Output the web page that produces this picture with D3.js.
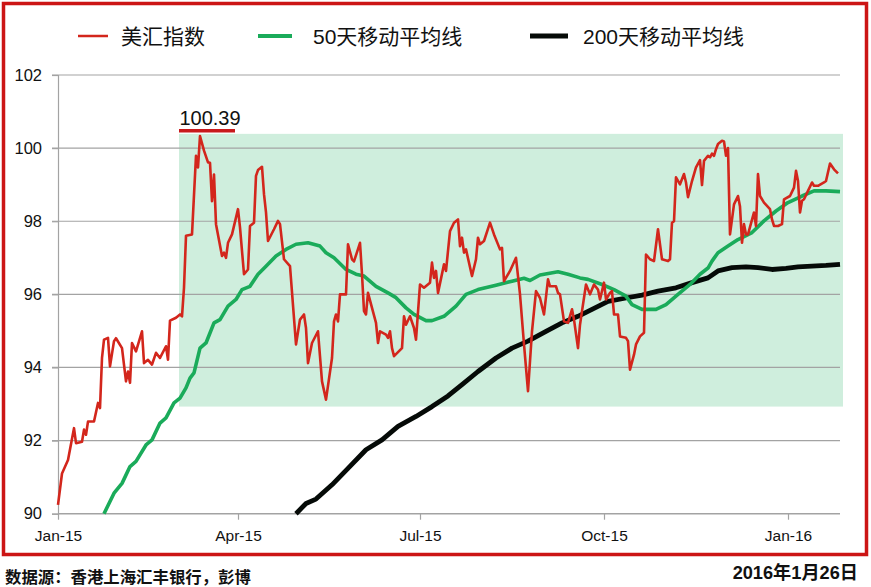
<!DOCTYPE html>
<html><head><meta charset="utf-8">
<script src="https://cdn.jsdelivr.net/npm/d3@7"></script>
<style>
html,body{margin:0;padding:0;background:#fff;}
svg{display:block;}
</style></head>
<body>
<svg id="chart" width="871" height="587"></svg>
<script>
// ---- DATA (day offset from 2015-01-01, value) ----
const usdIndex = [
[0,90.24],[2,91.1],[5,91.47],[8,92.34],[9,91.93],[12,91.97],[13,92.3],[14,92.16],[15,92.52],[18,92.52],
[20,93.03],[21,92.89],[22,94.26],[23,94.76],[25,94.81],[26,94.03],[28,94.72],[29,94.8],[32,94.53],[34,93.62],
[35,93.89],[36,93.58],[37,94.67],[39,94.44],[42,94.99],[43,94.12],[45,94.21],[47,94.08],[49,94.4],[51,94.26],
[54,94.58],[55,94.21],[56,95.28],[59,95.36],[61,95.45],[62,95.4],[63,96.18],[64,97.6],[67,97.64],[69,99.79],
[70,99.47],[71,100.33],[73,99.93],[75,99.61],[76,99.6],[77,98.55],[78,99.28],[79,97.92],[82,97.05],[83,97.14],
[84,97.0],[85,97.41],[87,97.64],[90,98.33],[91,97.83],[93,96.55],[95,96.68],[96,97.87],[98,97.96],[99,99.24],
[100,99.4],[102,99.49],[103,98.74],[104,98.24],[105,97.46],[108,97.78],[110,98.01],[111,97.92],[113,96.96],[116,96.77],
[119,94.63],[121,95.31],[123,95.45],[124,95.08],[125,94.12],[127,94.67],[130,94.99],[132,93.62],[134,93.12],[137,94.26],
[138,95.26],[139,95.45],[140,95.26],[141,96.0],[144,96.0],[145,97.37],[147,96.96],[148,96.9],[151,97.41],[152,96.55],
[153,95.54],[154,95.45],[155,96.04],[157,95.63],[159,95.22],[160,94.67],[161,94.99],[164,94.9],[165,94.81],[166,94.99],
[167,94.53],[168,94.31],[172,94.53],[173,95.4],[174,95.17],[176,95.4],[178,95.08],[179,94.76],[181,96.27],[183,96.18],
[186,96.32],[187,96.87],[188,96.45],[189,96.64],[190,96.04],[193,96.82],[194,96.64],[196,97.73],[198,97.96],[200,98.05],
[201,97.32],[202,97.55],[203,97.14],[204,97.23],[207,96.5],[209,96.96],[210,97.55],[211,97.37],[213,97.46],[216,97.96],
[218,97.64],[221,97.23],[222,97.27],[223,96.36],[226,96.64],[229,97.0],[231,96.0],[233,94.63],[235,93.35],[237,94.99],
[239,96.09],[241,95.9],[243,95.45],[245,96.41],[246,96.22],[249,96.22],[250,96.04],[251,96.0],[253,95.26],[255,95.22],
[257,95.59],[258,95.31],[260,94.53],[261,95.17],[262,95.54],[264,96.27],[266,96.0],[268,96.27],[270,96.13],[271,95.86],
[273,96.32],[274,95.86],[276,96.04],[277,96.09],[278,95.45],[280,95.45],[281,94.85],[284,94.81],[285,94.72],[286,93.94],
[288,94.35],[289,94.63],[291,94.85],[293,94.95],[294,97.09],[296,96.96],[298,96.91],[300,97.78],[302,96.96],[305,96.91],
[306,96.96],[307,97.96],[308,98.0],[309,99.2],[311,99.01],[313,99.29],[314,99.06],[315,98.66],[317,99.1],[319,99.47],
[321,99.67],[322,98.99],[323,99.65],[325,99.79],[326,99.75],[327,99.85],[328,99.79],[329,99.97],[330,100.11],[332,100.2],
[333,100.18],[334,99.79],[335,100.0],[336,97.64],[338,98.46],[340,98.69],[341,98.4],[342,97.41],[343,97.92],[344,97.64],
[345,97.64],[348,98.24],[349,97.87],[350,99.29],[351,98.69],[353,98.51],[356,98.33],[357,98.05],[358,97.87],[360,97.87],
[362,97.92],[363,98.6],[366,98.69],[368,98.92],[369,99.38],[370,99.1],[371,98.24],[372,98.56],[373,98.6],[375,98.83],
[377,99.06],[378,98.97],[380,98.97],[383,99.06],[384,99.1],[386,99.58],[388,99.42],[390,99.31]
];
const ma50 = [
[23,90.0],[28,90.56],[32,90.83],[36,91.29],[39,91.43],[44,91.88],[47,92.02],[51,92.48],[54,92.62],[58,93.03],
[61,93.16],[64,93.44],[66,93.71],[68,93.85],[71,94.53],[74,94.67],[78,95.22],[81,95.31],[85,95.68],[89,95.86],
[92,96.13],[96,96.22],[100,96.55],[104,96.77],[109,97.05],[114,97.23],[119,97.37],[125,97.41],[131,97.32],[134,97.14],
[138,97.0],[144,96.68],[149,96.55],[153,96.5],[159,96.22],[165,96.04],[169,95.91],[174,95.63],[178,95.45],[184,95.28],
[187,95.28],[193,95.4],[199,95.68],[204,96.0],[210,96.13],[219,96.25],[227,96.36],[233,96.44],[236,96.38],[241,96.53],
[250,96.62],[255,96.55],[261,96.45],[265,96.41],[272,96.27],[278,96.13],[284,95.95],[287,95.72],[292,95.59],[299,95.59],
[304,95.72],[310,96.0],[316,96.27],[321,96.55],[325,96.72],[327,96.91],[330,97.14],[335,97.32],[340,97.5],[347,97.69],
[353,98.01],[359,98.28],[365,98.51],[372,98.69],[378,98.83],[384,98.83],[391,98.81]
];
const ma200 = [
[119,90.0],[124,90.28],[129,90.4],[137,90.79],[145,91.24],[154,91.75],[162,92.02],[170,92.39],[179,92.66],[187,92.93],
[195,93.22],[202,93.53],[210,93.89],[219,94.26],[227,94.53],[235,94.72],[244,94.99],[252,95.22],[260,95.4],[267,95.59],
[275,95.81],[284,95.9],[292,95.98],[300,96.09],[309,96.18],[317,96.32],[325,96.45],[330,96.64],[337,96.73],[344,96.75],
[350,96.73],[357,96.68],[364,96.71],[370,96.75],[377,96.77],[384,96.79],[391,96.82]
];
const seriesNames = ["美汇指数","50天移动平均线","200天移动平均线"];
const yTicks = [90,92,94,96,98,100,102];
const xTickDates = ["2015-01-01","2015-04-01","2015-07-01","2015-10-01","2016-01-01"];
const rangeBox = {startDay:60.5, endDay:392.5, low:92.93, high:100.39};
const peakLabel = "100.39";
const sourceText = "数据源：香港上海汇丰银行，彭博";
const dateText = "2016年1月26日";

// ---- CHART ----
const svg = d3.select("#chart");
const base = new Date(2015,0,1);
const dayToDate = d => new Date(2015,0,1+Math.floor(d), (d%1)*24);
const L=58, R=840, T=75, B=513.7;
const x = d3.scaleTime().domain([base, new Date(2016,0,27)]).range([L,R]);
const y = d3.scaleLinear().domain([90,102]).range([B,T]);

const red="#d3261c", green="#1aab5a", black="#050a07", gridC="#a3a3a3";
const numFont = "'Liberation Sans', Arial, sans-serif";
const cjkFont = "'Liberation Sans', 'Noto Sans CJK SC', sans-serif";

// frame
svg.append("rect").attr("x",3.5).attr("y",3.5).attr("width",863).attr("height",551)
  .attr("fill","none").attr("stroke","#cc1515").attr("stroke-width",3.5);

// shaded range
svg.append("rect")
  .attr("x",x(dayToDate(rangeBox.startDay)))
  .attr("y",y(rangeBox.high))
  .attr("width",x(dayToDate(rangeBox.endDay))-x(dayToDate(rangeBox.startDay)))
  .attr("height",y(rangeBox.low)-y(rangeBox.high))
  .attr("fill","#cfeedd");

// gridlines
svg.append("g").selectAll("line").data(yTicks.filter(v=>v>90)).join("line")
  .attr("x1",L-6).attr("x2",R).attr("y1",d=>y(d)).attr("y2",d=>y(d))
  .attr("stroke",gridC).attr("stroke-width",1.2);

// y axis
const yAxis = svg.append("g").attr("transform",`translate(${L},0)`)
  .call(d3.axisLeft(y).tickValues(yTicks).tickSize(6).tickPadding(10).tickFormat(d3.format("d")));
yAxis.select(".domain").attr("stroke",gridC).attr("stroke-width",1.2);
yAxis.selectAll(".tick line").attr("stroke",gridC).attr("stroke-width",1.2);
yAxis.selectAll("text").attr("font-family",numFont).attr("font-size",16.5).attr("fill","#111");

// x axis
const xAxis = svg.append("g").attr("transform",`translate(0,${B})`)
  .call(d3.axisBottom(x).tickValues(xTickDates.map(s=>d3.timeParse("%Y-%m-%d")(s)))
    .tickSize(6).tickPadding(10).tickFormat(d3.timeFormat("%b-%y")));
xAxis.select(".domain").attr("stroke",gridC).attr("stroke-width",1.5).attr("d",`M${L},0H${R}`);
xAxis.selectAll(".tick line").attr("stroke",gridC).attr("stroke-width",1.2);
xAxis.selectAll("text").attr("font-family",numFont).attr("font-size",15.5).attr("fill","#111");

// lines
const line = d3.line().x(d=>x(dayToDate(d[0]))).y(d=>y(d[1]));
svg.append("path").datum(ma200).attr("d",line).attr("fill","none")
  .attr("stroke",black).attr("stroke-width",4.8).attr("stroke-linejoin","round");
svg.append("path").datum(ma50).attr("d",line).attr("fill","none")
  .attr("stroke",green).attr("stroke-width",3.6).attr("stroke-linejoin","round");
svg.append("path").datum(usdIndex).attr("d",line).attr("fill","none")
  .attr("stroke",red).attr("stroke-width",2.6).attr("stroke-linejoin","round");

// peak annotation
const peak = usdIndex.reduce((a,b)=>b[1]>a[1]?b:a);
const px = x(dayToDate(peak[0]));
svg.append("line").attr("x1",px-21).attr("x2",px+35)
  .attr("y1",y(rangeBox.high)-3).attr("y2",y(rangeBox.high)-3)
  .attr("stroke","#c8191c").attr("stroke-width",3.5);
svg.append("text").attr("x",px+10).attr("y",y(rangeBox.high)-9)
  .attr("text-anchor","middle").attr("font-family",numFont).attr("font-size",20)
  .attr("fill","#111").text(peakLabel);

// legend
const legend = [
  {name:seriesNames[0], color:red, w:2.5, x1:78, x2:108, tx:121},
  {name:seriesNames[1], color:green, w:4, x1:258, x2:292, tx:313},
  {name:seriesNames[2], color:black, w:5, x1:530, x2:568, tx:583}
];
const lg = svg.append("g");
lg.selectAll("line").data(legend).join("line")
  .attr("x1",d=>d.x1).attr("x2",d=>d.x2).attr("y1",36).attr("y2",36)
  .attr("stroke",d=>d.color).attr("stroke-width",d=>d.w);
lg.selectAll("text").data(legend).join("text")
  .attr("x",d=>d.tx).attr("y",43.5).attr("font-family",cjkFont).attr("font-size",21)
  .attr("fill","#111").text(d=>d.name);

// footer
svg.append("text").attr("x",5).attr("y",583).attr("font-family","'Noto Sans CJK SC', sans-serif")
  .attr("font-weight","bold").attr("font-size",16.4).attr("fill","#111").text(sourceText);
svg.append("text").attr("x",858).attr("y",579).attr("text-anchor","end")
  .attr("font-family",cjkFont).attr("font-weight","bold").attr("font-size",18.2)
  .attr("fill","#111").text(dateText);
</script>
</body></html>
